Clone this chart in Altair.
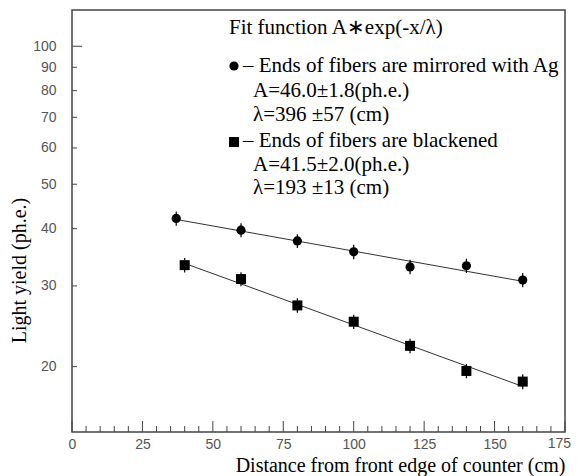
import altair as alt
import pandas as pd

# ---- data ----
dist_mirror = [37, 60, 80, 100, 120, 140, 160]
ly_mirror = [42.1, 39.7, 37.6, 35.6, 33.0, 33.2, 30.9]
err_mirror = [1.5, 1.4, 1.3, 1.3, 1.2, 1.2, 1.1]

dist_black = [40, 60, 80, 100, 120, 140, 160]
ly_black = [33.3, 31.05, 27.2, 25.06, 22.2, 19.57, 18.55]
err_black = [1.2, 1.1, 1.0, 0.9, 0.8, 0.7, 0.7]

fit_mirror_x = [37, 160]
fit_mirror_y = [41.9, 30.7]
fit_black_x = [40, 160]
fit_black_y = [33.6, 18.1]

x_major = [0, 25, 50, 75, 100, 125, 150, 175]
x_last = [175]
x_minor = [v for v in range(5, 175, 5) if v % 25 != 0]
y_labels = [20, 30, 40, 50, 60, 70, 80, 90, 100]
y_minor = [20, 30, 40, 50, 60, 70, 80, 90]
y_major = [100]

legend_title = "Fit function A\u2217exp(-x/\u03bb)"
legend_mirror = ["\u2013 Ends of fibers are mirrored with Ag", "A=46.0\u00b11.8(ph.e.)", "\u03bb=396 \u00b157 (cm)"]
legend_black = ["\u2013 Ends of fibers are blackened", "A=41.5\u00b12.0(ph.e.)", "\u03bb=193 \u00b113 (cm)"]

# ---- tables ----
pts_m = pd.DataFrame({"x": dist_mirror, "y": ly_mirror, "e": err_mirror})
pts_m["lo"] = pts_m["y"] - pts_m["e"]
pts_m["hi"] = pts_m["y"] + pts_m["e"]
pts_b = pd.DataFrame({"x": dist_black, "y": ly_black, "e": err_black})
pts_b["lo"] = pts_b["y"] - pts_b["e"]
pts_b["hi"] = pts_b["y"] + pts_b["e"]
fits = pd.concat([
    pd.DataFrame({"x": fit_mirror_x, "y": fit_mirror_y, "s": "m"}),
    pd.DataFrame({"x": fit_black_x, "y": fit_black_y, "s": "b"}),
])

W, H = 493, 422
SERIF = "Liberation Serif"
SANS = "Liberation Sans"

xs = alt.Scale(domain=[0, 175], nice=False, zero=False)
ys = alt.Scale(type="log", domain=[14.4, 120], nice=False)

xax = alt.Axis(values=x_major[:-1], format="d", tickSize=0, domain=False, grid=False,
               labelFont=SANS, labelFontSize=14, labelColor="#555", labelPadding=5,
               labelFlush=False, labelOverlap=False,
               title="Distance from front edge of counter (cm)", titleFont=SERIF,
               titleFontSize=20, titleFontWeight="normal", titleColor="black",
               titleX=W, titleY=39, titleAlign="right", titleBaseline="alphabetic")
yax = alt.Axis(values=y_labels, format="d", tickSize=0, domain=False, grid=False,
               labelFont=SANS, labelFontSize=14, labelColor="#555", labelPadding=16,
               labelFlush=False, labelOverlap=False,
               title="Light yield (ph.e.)", titleFont=SERIF, titleFontSize=20,
               titleFontWeight="normal", titleColor="black", titleAngle=-90,
               titleX=-47, titleY=260, titleAlign="center", titleBaseline="alphabetic")

X = alt.X("x:Q", scale=xs, axis=xax)
Y = alt.Y("y:Q", scale=ys, axis=yax)

fit_layer = alt.Chart(fits).mark_line(color="#333", strokeWidth=1).encode(x=X, y=Y, detail="s:N")

def err_layer(df):
    return alt.Chart(df).mark_rule(color="black", strokeWidth=1.2).encode(
        x=X, y=alt.Y("lo:Q", scale=ys, axis=yax), y2="hi:Q")

circ = alt.Chart(pts_m).mark_point(shape="circle", filled=True, size=85, color="black", opacity=1).encode(x=X, y=Y)
sq = alt.Chart(pts_b).mark_point(shape="square", filled=True, size=100, color="black", opacity=1).encode(x=X, y=Y)

tick_maj = alt.Chart(pd.DataFrame({"x": x_major})).mark_rule(color="#444", strokeWidth=1).encode(
    x=X, y=alt.value(H), y2=alt.value(H - 11))
tick_min = alt.Chart(pd.DataFrame({"x": x_minor})).mark_rule(color="#444", strokeWidth=1).encode(
    x=X, y=alt.value(H), y2=alt.value(H - 6))
ytick_min = alt.Chart(pd.DataFrame({"y": y_minor})).mark_rule(color="#444", strokeWidth=1).encode(
    y=Y, x=alt.value(0), x2=alt.value(5))
ytick_maj = alt.Chart(pd.DataFrame({"y": y_major})).mark_rule(color="#444", strokeWidth=1).encode(
    y=Y, x=alt.value(0), x2=alt.value(10))

# last x label (kept inside the canvas)
last_lab = alt.Chart(pd.DataFrame({"x": x_last, "t": [str(v) for v in x_last]})).mark_text(
    align="right", baseline="top", font=SANS, fontSize=14, color="#555", dx=6
).encode(x=X, y=alt.value(H + 5), text="t:N")

def txt(s, x, y):
    return alt.Chart(pd.DataFrame({"t": [s]})).mark_text(
        align="left", baseline="alphabetic", font=SERIF, fontSize=21, color="black"
    ).encode(x=alt.value(x), y=alt.value(y), text="t:N")

texts = [
    txt(legend_title, 157, 24),
    txt(legend_mirror[0], 171, 62),
    txt(legend_mirror[1], 181, 87),
    txt(legend_mirror[2], 181, 111),
    txt(legend_black[0], 171, 137),
    txt(legend_black[1], 181, 161),
    txt(legend_black[2], 181, 184),
]

sym_c = alt.Chart(pd.DataFrame({"k": [0]})).mark_point(shape="circle", filled=True, size=85, color="black", opacity=1).encode(
    x=alt.value(162), y=alt.value(56))
sym_s = alt.Chart(pd.DataFrame({"k": [0]})).mark_point(shape="square", filled=True, size=100, color="black", opacity=1).encode(
    x=alt.value(162), y=alt.value(132))

chart = alt.layer(
    tick_maj, tick_min, ytick_min, ytick_maj,
    fit_layer, err_layer(pts_m), err_layer(pts_b), circ, sq,
    sym_c, sym_s, last_lab, *texts
).properties(
    width=W, height=H,
    padding={"left": 64, "top": 2, "right": 6, "bottom": 44},
    autosize=alt.AutoSizeParams(type="none"),
    background="white",
).configure_view(stroke="#444", strokeWidth=1.5)

chart.save("out.html", embed_options={"renderer": "svg", "actions": False})
